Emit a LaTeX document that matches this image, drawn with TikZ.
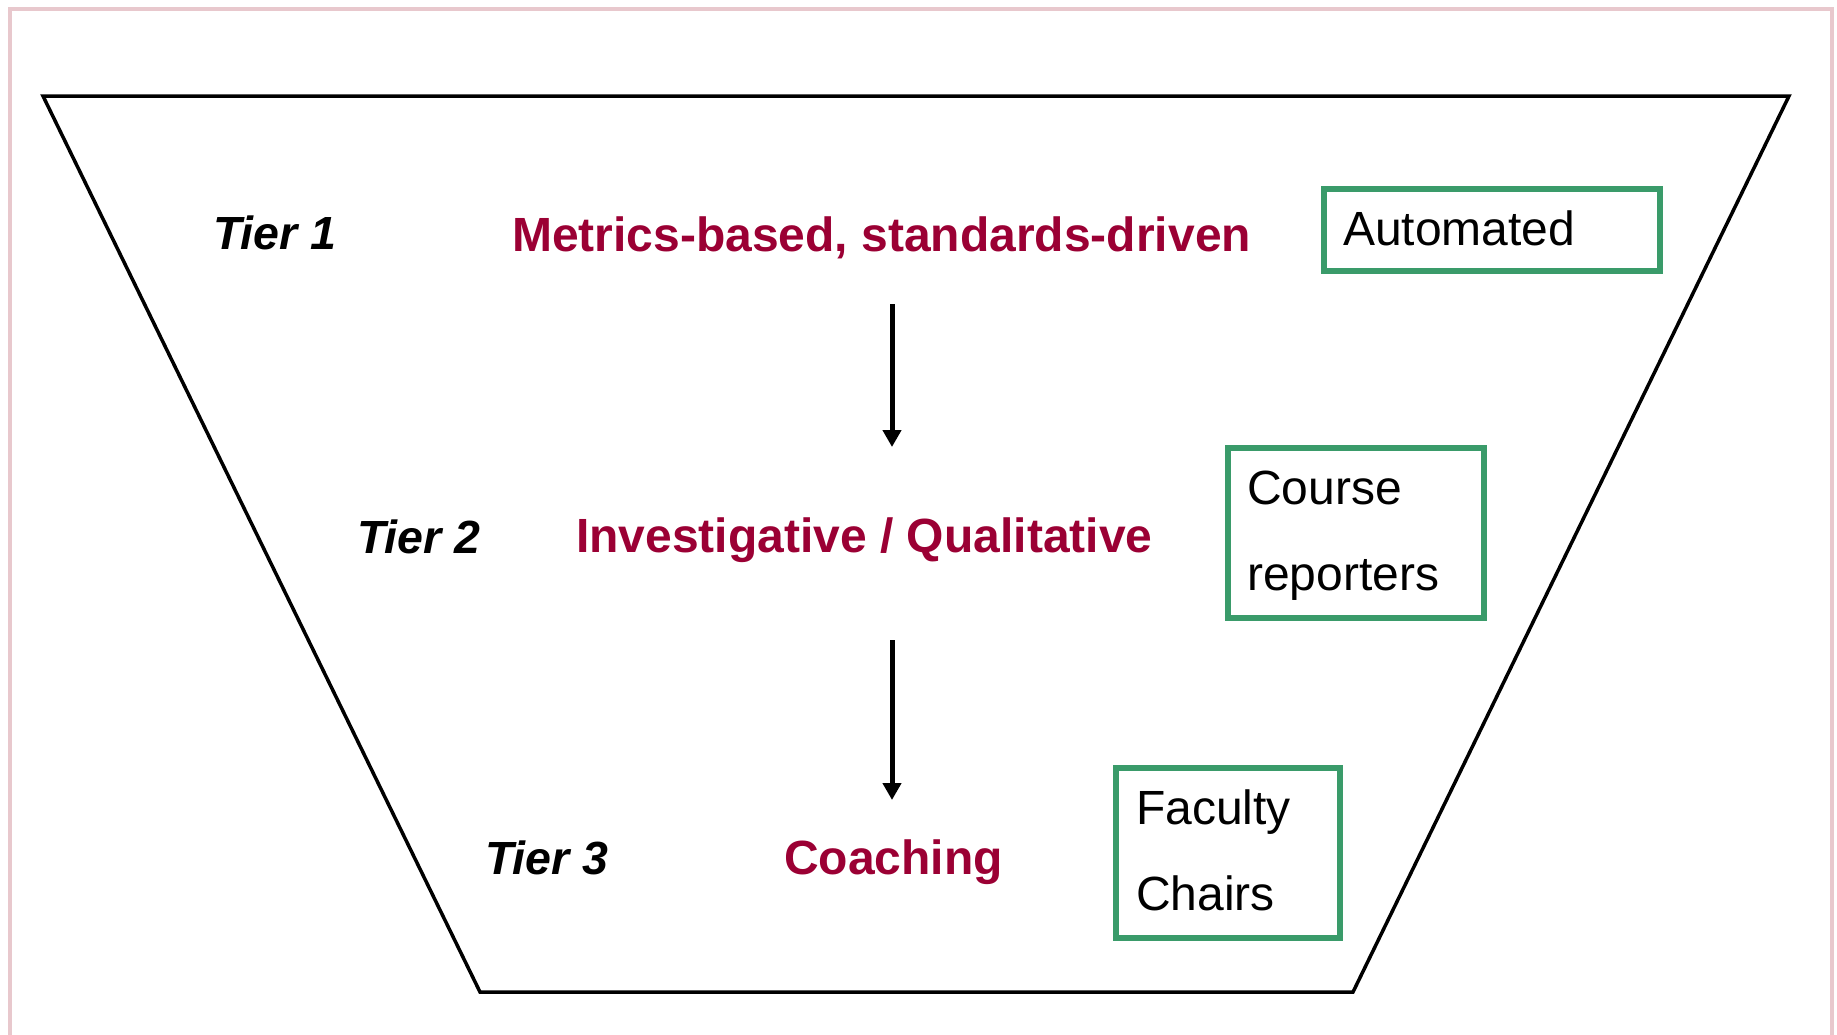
\documentclass[tikz,border=0pt]{standalone}
\usepackage{fontspec}
\setmainfont{Liberation Sans}
\usetikzlibrary{arrows.meta}
\definecolor{tierred}{RGB}{155,0,52}
\definecolor{boxgreen}{RGB}{58,155,106}
\definecolor{framepink}{RGB}{232,200,205}
\begin{document}
\begin{tikzpicture}[x=1pt,y=-1pt,
  tierlbl/.style={anchor=base west,inner sep=0pt,font=\fontsize{46.5}{58}\selectfont\bfseries\itshape},
  levellbl/.style={anchor=base west,inner sep=0pt,text=tierred,font=\fontsize{48}{58}\selectfont\bfseries},
  boxtxt/.style={anchor=base west,inner sep=0pt,font=\fontsize{48}{58}\selectfont},
  gbox/.style={draw=boxgreen,line width=5.5pt,inner sep=0pt,rectangle},
  flowarrow/.style={line width=5pt,-{Triangle[width=18pt,length=17pt]}}]
\useasboundingbox (0,0) rectangle (1837,1034);
\fill[white] (0,0) rectangle (1837,1034);
% frame
\draw[framepink,line width=4pt] (10,1040) -- (10,9) -- (1832,9) -- (1832,1040);
% funnel
\draw[line width=3.5pt,line join=miter] (43,96) -- (1789,96) -- (1353,992) -- (480,992) -- cycle;
% tier labels
\node[tierlbl] (t1) at (213,249) {Tier 1};
\node[tierlbl] (t2) at (357,553) {Tier 2};
\node[tierlbl] (t3) at (485,874) {Tier 3};
% level labels
\node[levellbl] (l1) at (512,251) {Metrics-based, standards-driven};
\node[levellbl] (l2) at (576,552) {Investigative / Qualitative};
\node[levellbl] (l3) at (784,874) {Coaching};
% boxes
\node[gbox,minimum width=336pt,minimum height=82pt] (b1) at (1492,230) {};
\node[gbox,minimum width=256pt,minimum height=170pt] (b2) at (1356,533) {};
\node[gbox,minimum width=224pt,minimum height=170pt] (b3) at (1228,853) {};
\node[boxtxt] (b1a) at (1343,245) {Automated};
\node[boxtxt] (b2a) at (1247,504) {Course};
\node[boxtxt] (b2b) at (1247,590) {reporters};
\node[boxtxt] (b3a) at (1136,824) {Faculty};
\node[boxtxt] (b3b) at (1136,910) {Chairs};
% arrows
\coordinate (a1s) at (892,304);
\coordinate (a1e) at (892,447);
\coordinate (a2s) at (892,640);
\coordinate (a2e) at (892,800);
\draw[flowarrow] (a1s) -- (a1e);
\draw[flowarrow] (a2s) -- (a2e);
\end{tikzpicture}
\end{document}
